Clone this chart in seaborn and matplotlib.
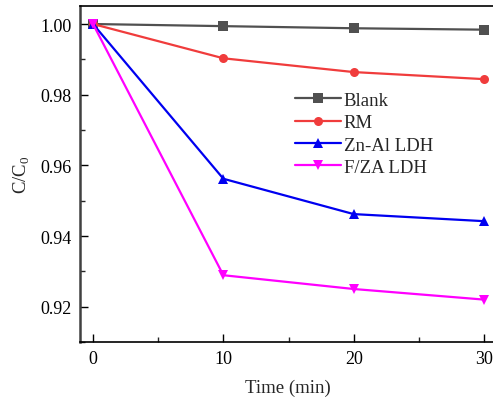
import numpy as np
import pandas as pd
import matplotlib
matplotlib.use("Agg")
import matplotlib.pyplot as plt
import seaborn as sns
from matplotlib.ticker import MultipleLocator

time = [0, 10, 20, 30]
series_names = ["Blank", "RM", "Zn-Al LDH", "F/ZA LDH"]
blank = [1.000, 0.9994, 0.9988, 0.9984]
rm = [1.000, 0.9903, 0.9864, 0.9844]
znal = [1.000, 0.9562, 0.9462, 0.9442]
fza = [1.000, 0.9289, 0.9250, 0.9220]

colors = ["#505050", "#F03C3C", "#0000F0", "#FF00FF"]
markers = ["s", "o", "^", "v"]

rows = []
for name, vals in zip(series_names, [blank, rm, znal, fza]):
    for t, v in zip(time, vals):
        rows.append({"Time": t, "C": v, "Sample": name})
df = pd.DataFrame(rows)

sns.set_theme(style="ticks")
plt.rcParams['font.family'] = ['Liberation Serif', 'DejaVu Serif']
plt.rcParams['mathtext.fontset'] = 'custom'
plt.rcParams['mathtext.rm'] = 'Liberation Serif'

fig = plt.figure(figsize=(4.93, 4.06), dpi=100)
ax = fig.add_axes([80/493, 1 - 343/406, (496 - 80)/493, (343 - 7)/406])

sns.lineplot(data=df, x="Time", y="C", hue="Sample", style="Sample",
             hue_order=series_names, style_order=series_names,
             palette=dict(zip(series_names, colors)),
             markers=dict(zip(series_names, markers)), dashes=False,
             linewidth=1.6, markersize=6.5, markeredgewidth=0, ax=ax)

ax.set_xlim(-1, 30 + 12/13.07)
ax.set_ylim(0.910, 1.0051)
ax.set_xticks([0, 10, 20, 30])
ax.set_yticks([0.92, 0.94, 0.96, 0.98, 1.00])
ax.set_yticklabels(["0.92", "0.94", "0.96", "0.98", "1.00"])
ax.xaxis.set_minor_locator(MultipleLocator(5))
ax.yaxis.set_minor_locator(MultipleLocator(0.01))
ax.tick_params(which="major", direction="in", length=6, width=1, labelsize=13, colors="black", pad=6)
ax.tick_params(which="minor", direction="in", length=3.5, width=1)
for s in ax.spines.values():
    s.set_visible(True)
    s.set_linewidth(1.2)
    s.set_color("black")
ax.spines["left"].set_color("#404040")
ax.spines["left"].set_linewidth(1.8)

ax.set_xlabel("Time (min)", fontsize=13.5, labelpad=8)
ax.set_ylabel(r"C/C$_0$", fontsize=13.5, labelpad=6)

ax.legend(title=None, frameon=False, fontsize=13.5, loc="upper left",
          bbox_to_anchor=(207/416, 0.767), handlelength=2.5, handletextpad=0.12,
          labelspacing=0.28, borderaxespad=0)

fig.savefig("out.png", dpi=100)
